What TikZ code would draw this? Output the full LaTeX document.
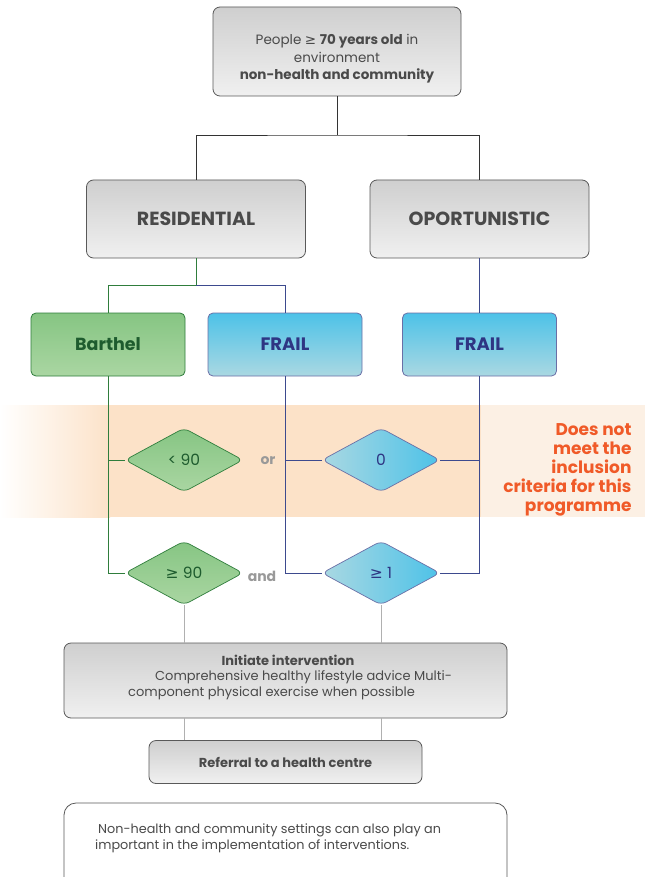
\documentclass[tikz,border=0pt]{standalone}
\usepackage{fontspec}
\setmainfont{Poppins}
\newfontfamily\symf{DejaVu Sans}
\usetikzlibrary{shapes.geometric}
\definecolor{gtop}{HTML}{CFCFCF}
\definecolor{gbot}{HTML}{F0F0F0}
\definecolor{gtext}{HTML}{4A4A4A}
\definecolor{grtop}{HTML}{86C583}
\definecolor{grbot}{HTML}{AAD6A2}
\definecolor{grline}{HTML}{2F7D3C}
\definecolor{grtext}{HTML}{1E5C2E}
\definecolor{bltop}{HTML}{4DC2E8}
\definecolor{blbot}{HTML}{AAD8E2}
\definecolor{blline}{HTML}{3D4A8E}
\definecolor{blborder}{HTML}{6A6FA6}
\definecolor{bltext}{HTML}{2E3583}
\definecolor{band}{HTML}{FCE2C8}
\definecolor{bandlight}{HTML}{FCF0E4}
\definecolor{orangetext}{HTML}{F05A28}
\definecolor{lgray}{HTML}{B0B0B0}
\definecolor{darkline}{HTML}{333333}
\tikzset{
  graybox/.style={rectangle, rounded corners=7pt, draw=black!65, line width=0.8pt,
    top color=gtop, bottom color=gbot, text=gtext, align=center, inner sep=2pt},
  greenbox/.style={rectangle, rounded corners=5pt, draw=grline, line width=0.8pt,
    top color=grtop, bottom color=grbot, text=grtext, minimum width=154pt, minimum height=63pt,
    font=\fontsize{17.5}{20}\selectfont\bfseries},
  bluebox/.style={rectangle, rounded corners=5pt, draw=blborder, line width=0.8pt,
    top color=bltop, bottom color=blbot, text=bltext, minimum width=154pt, minimum height=63pt,
    font=\fontsize{18}{20}\selectfont\bfseries},
  greendia/.style={diamond, rounded corners=6pt, draw=grline, line width=0.7pt,
    top color=grtop, bottom color=grbot, text=grtext, minimum width=118pt, minimum height=64pt,
    inner sep=0pt, font=\fontsize{15.5}{17}\selectfont},
  bluedia/.style={diamond, rounded corners=6pt, draw=blborder, line width=0.7pt,
    left color=blbot, right color=bltop, text=bltext, minimum width=118pt, minimum height=64pt,
    inner sep=0pt, font=\fontsize{15.5}{17}\selectfont},
  cblack/.style={draw=darkline, line width=0.8pt},
  cgreen/.style={draw=grline, line width=0.9pt},
  cblue/.style={draw=blline, line width=0.9pt},
  cgray/.style={draw=lgray, line width=0.9pt},
  conj/.style={text=black!40, font=\fontsize{14}{16}\selectfont\bfseries},
}
\begin{document}
\begin{tikzpicture}[x=1pt,y=-1pt]
\useasboundingbox (0,0) rectangle (645,877);
\fill[white] (0,0) rectangle (645,877);
% orange band
\shade[left color=white, right color=band] (0,405) rectangle (110,517);
\fill[band] (110,405) rectangle (481,517);
\fill[bandlight] (481,405) rectangle (645,517);

% nodes
\node[graybox, minimum width=248pt, minimum height=89pt] (top) at (337,51.5) {};
\node[text=gtext, align=center, font=\fontsize{13.5}{17.5}\selectfont] (toptxt) at (337,59)
  {People {\symf ≥} \textbf{70 years old} in\\ environment\\ \textbf{non-health and community}};
\node[graybox, minimum width=219pt, minimum height=78pt, font=\fontsize{19}{22}\selectfont\bfseries] (res) at (196,219) {RESIDENTIAL};
\node[graybox, minimum width=219pt, minimum height=78pt, font=\fontsize{19}{22}\selectfont\bfseries] (opp) at (479.5,219) {OPORTUNISTIC};

\node[greenbox] (barthel) at (108,344.5) {Barthel};
\node[bluebox] (frail1) at (285,344.5) {FRAIL};
\node[bluebox] (frail2) at (479.5,344.5) {FRAIL};

\node[greendia] (d1) at (184,460) {< 90};
\node[bluedia] (d2) at (381,460) {0};
\node[greendia] (d3) at (184,573) {{\symf ≥} 90};
\node[bluedia] (d4) at (381,573) {{\symf ≥} 1};

\node[conj] (or) at (268,461) {or};
\node[conj] (and) at (262,576) {and};

\node[text=orangetext, align=right, anchor=east, font=\fontsize{17}{19}\selectfont\bfseries] (dnm) at (635,470)
  {Does not\\meet the\\inclusion\\criteria for this\\programme};

\node[graybox, minimum width=443pt, minimum height=75pt] (interv) at (285.5,680.5) {};
\node[text=gtext, font=\fontsize{13}{15}\selectfont\bfseries] (it1) at (288,660) {Initiate intervention};
\node[text=gtext, font=\fontsize{13}{15}\selectfont, anchor=west, inner sep=0pt] (it2) at (155,677) {Comprehensive healthy lifestyle advice Multi-};
\node[text=gtext, font=\fontsize{13}{15}\selectfont, anchor=west, inner sep=0pt] (it3) at (128,693) {component physical exercise when possible};

\node[graybox, minimum width=273pt, minimum height=43pt, font=\fontsize{13}{15}\selectfont\bfseries] (ref) at (285.5,762) {Referral to a health centre};

% bottom open box
\draw[black!65, line width=0.8pt, rounded corners=12pt] (64,880) -- (64,803) -- (507,803) -- (507,880);
\node[text=gtext, font=\fontsize{12.8}{15}\selectfont, anchor=west, inner sep=0pt] (nb1) at (98,830) {Non-health and community settings can also play an};
\node[text=gtext, font=\fontsize{12.8}{15}\selectfont, anchor=west, inner sep=0pt] (nb2) at (95,846) {important in the implementation of interventions.};

% connectors
\coordinate (j1) at (337,135);
\draw[cblack] (top.south) -- (j1);
\draw[cblack] (res.north) |- (j1) -| (opp.north);

\coordinate (j2) at (196,285);
\draw[cgreen] (res.south) -- (j2) -| (barthel.north);
\draw[cblue] (j2) -| (frail1.north);
\draw[cblue] (opp.south) -- (frail2.north);

\draw[cgreen] (barthel.south) |- (d3.west);
\draw[cgreen] (barthel.south |- d1.west) -- (d1.west);
\draw[cblue] (frail1.south) |- (d4.west);
\draw[cblue] (frail1.south |- d2.west) -- (d2.west);
\draw[cblue] (frail2.south) |- (d4.east);
\draw[cblue] (frail2.south |- d2.east) -- (d2.east);

\draw[cgray] (d3.south) -- (d3.south |- interv.north);
\draw[cgray] (d4.south) -- (d4.south |- interv.north);
\draw[cgray] (interv.south -| d3.south) -- (ref.north -| d3.south);
\draw[cgray] (interv.south -| d4.south) -- (ref.north -| d4.south);
\end{tikzpicture}
\end{document}
